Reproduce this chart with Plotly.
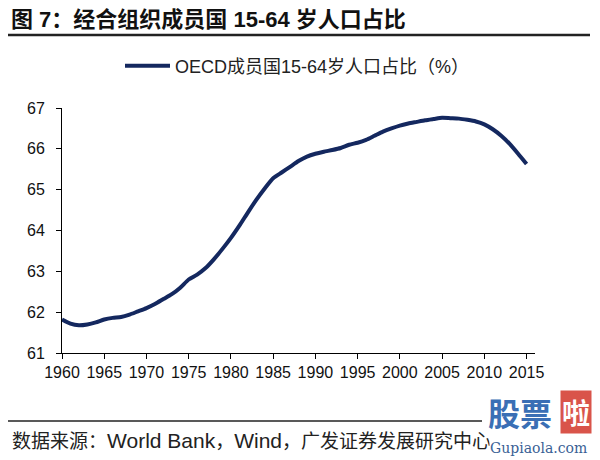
import plotly.graph_objects as go

years = list(range(1960, 2016))
share = [61.82, 61.72, 61.68, 61.70, 61.75, 61.82, 61.86, 61.88, 61.94, 62.02,
         62.10, 62.20, 62.32, 62.44, 62.60, 62.80, 62.92, 63.08, 63.30, 63.55,
         63.82, 64.12, 64.44, 64.75, 65.03, 65.28, 65.42, 65.56, 65.70, 65.81,
         65.88, 65.93, 65.97, 66.02, 66.10, 66.15, 66.22, 66.32, 66.42, 66.50,
         66.57, 66.62, 66.66, 66.70, 66.73, 66.76, 66.75, 66.74, 66.71, 66.67,
         66.60, 66.48, 66.32, 66.12, 65.88, 65.63]
x_ticks = list(range(1960, 2016, 5))
y_ticks = [61, 62, 63, 64, 65, 66, 67]
series_name = "OECD成员国15-64岁人口占比（%）"
title_text = "图 7：经合组织成员国 15-64 岁人口占比"
source_text = ("数据来源：<span style='font-size:21px'>World Bank</span>，"
               "<span style='font-size:21px'>Wind</span>，广发证券发展研究中心")

navy = "#14285F"
font_mix = "Liberation Sans, Noto Sans CJK SC, sans-serif"
font_num = "Liberation Sans, Arial, sans-serif"

# page body has an 8px margin: figure is 592x452 placed at (8, 8)
OFF = 8
W, H = 600 - OFF, 460 - OFF
PLOT_TOP, PLOT_BOT, PLOT_L, PLOT_R = 108, 353, 62, 535   # reference pixel coords
PH = PLOT_BOT - PLOT_TOP
PW = PLOT_R - PLOT_L


def py(p):
    return (PLOT_BOT - p) / PH


def px(p):
    return (p - PLOT_L) / PW


fig = go.Figure()
fig.add_trace(go.Scatter(x=years, y=share, mode="lines", name=series_name,
                         line=dict(color=navy, width=4, shape="spline", smoothing=0.6)))

fig.update_layout(
    width=W, height=H,
    margin=dict(l=PLOT_L - OFF, r=600 - PLOT_R, t=PLOT_TOP - OFF, b=460 - PLOT_BOT),
    paper_bgcolor="white", plot_bgcolor="white",
    showlegend=True,
    legend=dict(orientation="h", x=px(120), xanchor="left", y=1 - (66 - OFF) / H,
                yref="container", yanchor="middle",
                font=dict(family=font_mix, size=18, color="#222"),
                itemwidth=45, bgcolor="rgba(0,0,0,0)"),
    xaxis=dict(range=[1960, 2016], tickmode="array", tickvals=x_ticks,
               ticktext=[str(v) for v in x_ticks], showgrid=False, zeroline=False,
               showline=True, linecolor="black", linewidth=1, ticks="outside",
               ticklen=5, tickcolor="black",
               tickfont=dict(family=font_num, size=16, color="#111")),
    yaxis=dict(range=[61, 67], tickmode="array", tickvals=y_ticks,
               showgrid=False, zeroline=False, showline=True, linecolor="black",
               linewidth=1, ticks="outside", ticklen=5, tickcolor="black",
               ticklabelstandoff=8,
               tickfont=dict(family=font_num, size=16, color="#111")),
)

fig.add_annotation(text="<b>" + title_text + "</b>", xref="paper", yref="paper",
                   x=px(10), y=py(19), xanchor="left", yanchor="middle",
                   showarrow=False, borderpad=0,
                   font=dict(family="Liberation Sans, Noto Sans CJK SC", size=22, color="#111"))

fig.add_annotation(text=source_text, xref="paper", yref="paper",
                   x=px(10), y=py(440), xanchor="left", yanchor="middle",
                   showarrow=False, font=dict(family=font_mix, size=19, color="#222"))

# watermark
fig.add_annotation(text="<b>股票</b>", xref="paper", yref="paper",
                   x=px(520), y=py(412), xanchor="center", yanchor="middle",
                   showarrow=False, font=dict(family="Noto Sans CJK SC", size=32, color="#3a6fb5"),
                   bgcolor="white")
fig.add_annotation(text="<b>啦</b>", xref="paper", yref="paper",
                   x=px(576), y=py(412), xanchor="center", yanchor="middle",
                   showarrow=False, font=dict(family="Noto Sans CJK SC", size=28, color="white"),
                   bgcolor="#d9544a", borderpad=1)
fig.add_annotation(text="Gupiaola.com", xref="paper", yref="paper",
                   x=px(538), y=py(448), xanchor="center", yanchor="middle",
                   showarrow=False, font=dict(family="DejaVu Serif", size=14, color="#3a5f95"),
                   bgcolor="white", borderpad=0)

fig.add_shape(type="line", xref="paper", yref="paper",
              x0=px(OFF), x1=px(590), y0=py(35), y1=py(35),
              line=dict(color="#222", width=2.5))
fig.add_shape(type="line", xref="paper", yref="paper",
              x0=px(OFF), x1=px(482), y0=py(421), y1=py(421),
              line=dict(color="#222", width=1.5))

fig.write_html("out.html")
